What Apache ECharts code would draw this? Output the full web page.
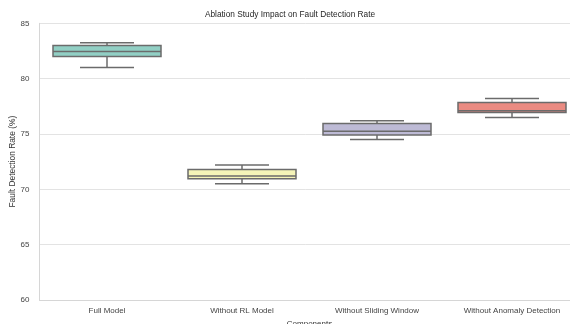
<!DOCTYPE html>
<html>
<head>
<meta charset="utf-8">
<script src="https://cdn.jsdelivr.net/npm/echarts@6/dist/echarts.min.js"></script>
<style>
  html, body { margin: 0; padding: 0; background: #ffffff; }
  #chart { width: 570px; height: 324px; }
</style>
</head>
<body>
<div id="chart"></div>
<script>
// Ablation study: fault detection rate per model variant
const categories = ['Full Model', 'Without RL Model', 'Without Sliding Window', 'Without Anomaly Detection'];
// five-number summaries: [min, Q1, median, Q3, max]
const fullModel        = [81.0, 82.0, 82.45, 83.0, 83.25];
const withoutRL        = [70.5, 70.95, 71.2, 71.8, 72.2];
const withoutSliding   = [74.5, 74.9, 75.25, 75.95, 76.2];
const withoutAnomaly   = [76.5, 76.95, 77.1, 77.85, 78.2];
const boxColors = ['#91cfc4', '#f5f4b8', '#bdbad5', '#ea8b82'];
const yTicks = [60, 65, 70, 75, 80, 85];

const summaries = [fullModel, withoutRL, withoutSliding, withoutAnomaly];
const boxData = summaries.map((s, i) => [i].concat(s));

const chart = echarts.init(document.getElementById('chart'), null, { renderer: 'canvas' });
const font = 'Liberation Sans, Arial, sans-serif';

chart.setOption({
  animation: false,
  backgroundColor: '#ffffff',
  title: {
    text: 'Ablation Study Impact on Fault Detection Rate',
    left: 285, top: 6, textAlign: 'center',
    textStyle: { fontFamily: font, fontSize: 8.3, fontWeight: 'normal', color: '#262626' }
  },
  grid: { left: 39.5, right: -9.5, top: 23.3, bottom: 24, outerBoundsMode: 'none', containLabel: false },
  xAxis: {
    type: 'category', data: categories,
    axisLine: { show: true, lineStyle: { color: '#d6d6d6', width: 1 } },
    axisTick: { show: false },
    axisLabel: { fontFamily: font, fontSize: 8, color: '#444', margin: 7 },
    name: 'Components', nameLocation: 'middle', nameGap: 20, nameMoveOverlap: false,
    nameTextStyle: { fontFamily: font, fontSize: 8, color: '#333' }
  },
  yAxis: {
    type: 'value', min: yTicks[0], max: yTicks[yTicks.length - 1], interval: 5,
    axisLine: { show: true, lineStyle: { color: '#d6d6d6', width: 1 } },
    axisTick: { show: false },
    splitLine: { lineStyle: { color: '#e3e3e3', width: 1 } },
    axisLabel: { fontFamily: font, fontSize: 8, color: '#444', margin: 10 },
    name: 'Fault Detection Rate (%)', nameLocation: 'middle', nameGap: 23, nameRotate: 90,
    nameMoveOverlap: false,
    nameTextStyle: { fontFamily: font, fontSize: 8.4, color: '#333' }
  },
  series: [{
    type: 'custom',
    data: boxData,
    encode: { x: 0, y: [1, 2, 3, 4, 5] },
    renderItem: function (params, api) {
      const idx = api.value(0);
      const band = api.size([1, 0])[0];
      const half = band * 0.4;
      const capHalf = band * 0.2;
      const cx = api.coord([idx, 0])[0];
      const yMin = api.coord([idx, api.value(1)])[1];
      const yQ1 = api.coord([idx, api.value(2)])[1];
      const yMed = api.coord([idx, api.value(3)])[1];
      const yQ3 = api.coord([idx, api.value(4)])[1];
      const yMax = api.coord([idx, api.value(5)])[1];
      const edge = { stroke: '#6b6b6b', lineWidth: 1.5 };
      return {
        type: 'group',
        children: [
          { type: 'line', shape: { x1: cx, y1: yQ1, x2: cx, y2: yMin }, style: edge },
          { type: 'line', shape: { x1: cx, y1: yQ3, x2: cx, y2: yMax }, style: edge },
          { type: 'line', shape: { x1: cx - capHalf, y1: yMin, x2: cx + capHalf, y2: yMin }, style: edge },
          { type: 'line', shape: { x1: cx - capHalf, y1: yMax, x2: cx + capHalf, y2: yMax }, style: edge },
          { type: 'rect', shape: { x: cx - half, y: yQ3, width: half * 2, height: yQ1 - yQ3 },
            style: { fill: boxColors[idx], stroke: '#6b6b6b', lineWidth: 1.5 } },
          { type: 'line', shape: { x1: cx - half, y1: yMed, x2: cx + half, y2: yMed }, style: edge }
        ]
      };
    }
  }]
});
</script>
</body>
</html>
